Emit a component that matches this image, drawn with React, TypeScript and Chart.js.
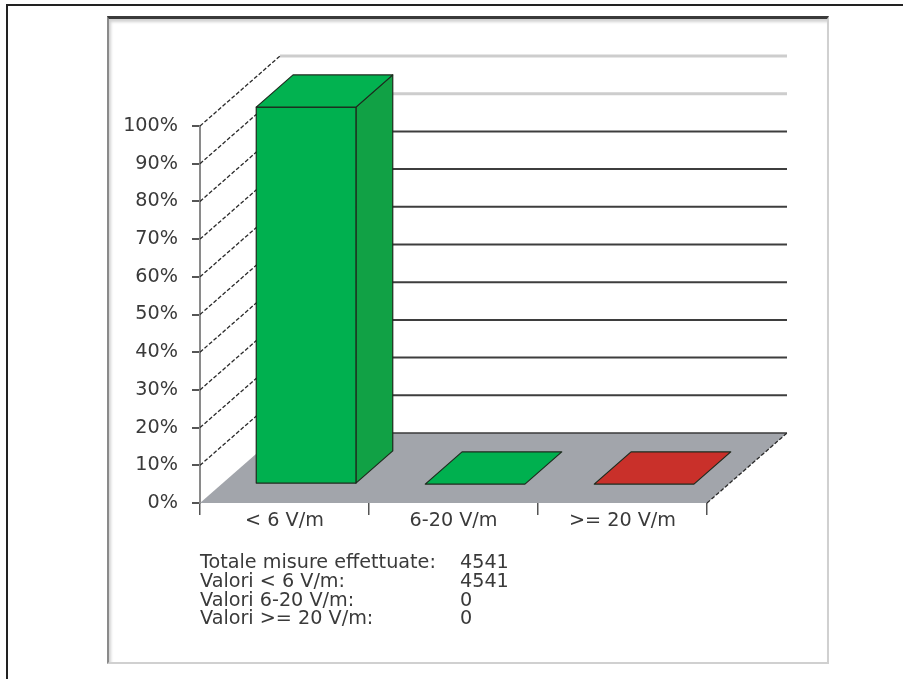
import React, { useEffect, useRef } from "react";
import { Chart, registerables } from "chart.js";

Chart.register(...registerables);

// ---- data ----
const categories = ["< 6 V/m", "6-20 V/m", ">= 20 V/m"];
const percentValues = [100, 0, 0];
const frontColors = ["#00b04f", "#00b04f", "#c9302a"];
const sideColors = ["#11a145", "#11a145", "#a92620"];
const topColors = ["#02b250", "#00b04f", "#c9302a"];
const yMin = 0;
const yMax = 100;
const yStep = 10;
const statLabels = [
  "Totale misure effettuate:",
  "Valori < 6 V/m:",
  "Valori 6-20 V/m:",
  "Valori >= 20 V/m:",
];
const statValues = ["4541", "4541", "0", "0"];

// ---- 3D look ----
const DX = 80;
const DY = -70;
const FRONT = 0.27;
const BACK = 0.73;
const FONT = "'DejaVu Sans', Verdana, sans-serif";
const FONT_SIZE = 19.2;

const threeD = {
  id: "threeD",
  beforeDatasetsDraw(chart: any) {
    const { ctx, chartArea, scales } = chart;
    const { left, right } = chartArea;
    const y = scales.y;
    const y0 = y.getPixelForValue(0);
    ctx.save();
    // floor
    ctx.fillStyle = "#a2a5ab";
    ctx.beginPath();
    ctx.moveTo(left, y0);
    ctx.lineTo(right, y0);
    ctx.lineTo(right + DX, y0 + DY);
    ctx.lineTo(left + DX, y0 + DY);
    ctx.closePath();
    ctx.fill();
    // back wall grid lines
    y.ticks.forEach((t: any) => {
      if (t.value === 0) return;
      const py = y.getPixelForValue(t.value) + DY;
      const light = t.value >= 90;
      ctx.strokeStyle = light ? "#cdcdcd" : "#3e3e3e";
      ctx.lineWidth = light ? 3 : 2;
      ctx.beginPath();
      ctx.moveTo(left + DX, py);
      ctx.lineTo(right + DX, py);
      ctx.stroke();
    });
    // floor back edge
    ctx.strokeStyle = "#3a3a3a";
    ctx.lineWidth = 1.5;
    ctx.beginPath();
    ctx.moveTo(left + DX, y0 + DY);
    ctx.lineTo(right + DX, y0 + DY);
    ctx.stroke();
    // dashed diagonals
    ctx.setLineDash([4, 2]);
    ctx.lineWidth = 1.3;
    ctx.strokeStyle = "#2a2a2a";
    y.ticks.forEach((t: any) => {
      if (t.value === 0) return;
      const py = y.getPixelForValue(t.value);
      ctx.beginPath();
      ctx.moveTo(left, py);
      ctx.lineTo(left + DX, py + DY);
      ctx.stroke();
    });
    ctx.beginPath();
    ctx.moveTo(right, y0);
    ctx.lineTo(right + DX, y0 + DY);
    ctx.stroke();
    ctx.restore();
  },
  beforeDatasetDraw(chart: any, args: any) {
    const { ctx } = chart;
    const meta = chart.getDatasetMeta(args.index);
    const fx = DX * FRONT, fy = DY * FRONT, bx = DX * BACK, by = DY * BACK;
    ctx.save();
    ctx.strokeStyle = "#1d2a1d";
    ctx.lineWidth = 1.2;
    ctx.lineJoin = "round";
    meta.data.forEach((bar: any, i: number) => {
      const { x, y, base, width } = bar.getProps(["x", "y", "base", "width"], true);
      const x1 = x - width / 2;
      const x2 = x + width / 2;
      const h = base - y;
      const poly = (pts: number[][], fill: string) => {
        ctx.beginPath();
        ctx.moveTo(pts[0][0], pts[0][1]);
        for (let k = 1; k < pts.length; k++) ctx.lineTo(pts[k][0], pts[k][1]);
        ctx.closePath();
        ctx.fillStyle = fill;
        ctx.fill();
        ctx.stroke();
      };
      if (h > 0.5) {
        poly(
          [
            [x2 + fx, y + fy],
            [x2 + bx, y + by],
            [x2 + bx, base + by],
            [x2 + fx, base + fy],
          ],
          sideColors[i]
        );
        poly(
          [
            [x1 + fx, y + fy],
            [x2 + fx, y + fy],
            [x2 + fx, base + fy],
            [x1 + fx, base + fy],
          ],
          frontColors[i]
        );
      }
      poly(
        [
          [x1 + fx, y + fy],
          [x1 + bx, y + by],
          [x2 + bx, y + by],
          [x2 + fx, y + fy],
        ],
        topColors[i]
      );
    });
    ctx.restore();
    return false;
  },
};

export default function App() {
  const canvasRef = useRef<HTMLCanvasElement | null>(null);

  useEffect(() => {
    if (!canvasRef.current) return;
    const chart = new Chart(canvasRef.current, {
      type: "bar",
      data: {
        labels: categories,
        datasets: [
          {
            data: percentValues,
            backgroundColor: frontColors,
            categoryPercentage: 1,
            barPercentage: 0.59,
          },
        ],
      },
      options: {
        animation: false,
        responsive: true,
        maintainAspectRatio: false,
        layout: { padding: { top: 126, right: 196, left: 0, bottom: 0 } },
        plugins: { legend: { display: false }, tooltip: { enabled: false } },
        scales: {
          x: {
            grid: {
              offset: true,
              drawOnChartArea: false,
              drawTicks: true,
              tickLength: 12,
              color: "#555",
              lineWidth: 1.5,
            },
            border: { display: false },
            ticks: {
              color: "#3a3a3a",
              font: { family: FONT, size: FONT_SIZE },
              padding: -6,
              maxRotation: 0,
              autoSkip: false,
            },
            afterFit: (s: any) => {
              s.height = 176;
            },
          },
          y: {
            min: yMin,
            max: yMax,
            ticks: {
              stepSize: yStep,
              callback: (v: any) => v + "%",
              color: "#3a3a3a",
              font: { family: FONT, size: FONT_SIZE },
              padding: 14,
            },
            grid: {
              drawOnChartArea: false,
              tickLength: 8,
              color: "#555",
              lineWidth: 2,
            },
            border: { display: true, color: "#8a8a8a", width: 2 },
            afterFit: (s: any) => {
              s.width = 200;
            },
          },
        },
      },
      plugins: [threeD],
    } as any);
    return () => chart.destroy();
  }, []);

  const textStyle = {
    position: "absolute" as const,
    height: 19,
    lineHeight: "19px",
    fontFamily: FONT,
    fontSize: FONT_SIZE,
    color: "#3a3a3a",
    whiteSpace: "pre" as const,
  };

  return (
    <div
      style={{
        position: "fixed",
        left: 0,
        top: 0,
        width: 903,
        height: 679,
        background: "#fff",
        overflow: "hidden",
      }}
    >
      <div
        style={{
          position: "absolute",
          left: 6,
          top: 4,
          width: 910,
          height: 700,
          borderTop: "2px solid #222",
          borderLeft: "2px solid #222",
        }}
      />
      <div
        style={{
          position: "absolute",
          left: 107,
          top: 16,
          width: 718,
          height: 643,
          background: "#fff",
          borderTop: "3px solid #3a3a3a",
          borderLeft: "2px solid #8a8a8a",
          borderRight: "2px solid #d0d0d0",
          borderBottom: "2px solid #d0d0d0",
          boxShadow: "inset 2px 3px 3px rgba(0,0,0,0.18)",
        }}
      />
      <div style={{ position: "absolute", left: 0, top: 0, width: 903, height: 679 }}>
        <canvas ref={canvasRef} />
      </div>
      {statLabels.map((lab, i) => (
        <React.Fragment key={lab}>
          <div style={{ ...textStyle, left: 200, top: 552 + i * 18.8 }}>{lab}</div>
          <div style={{ ...textStyle, left: 460, top: 552 + i * 18.8 }}>{statValues[i]}</div>
        </React.Fragment>
      ))}
    </div>
  );
}
